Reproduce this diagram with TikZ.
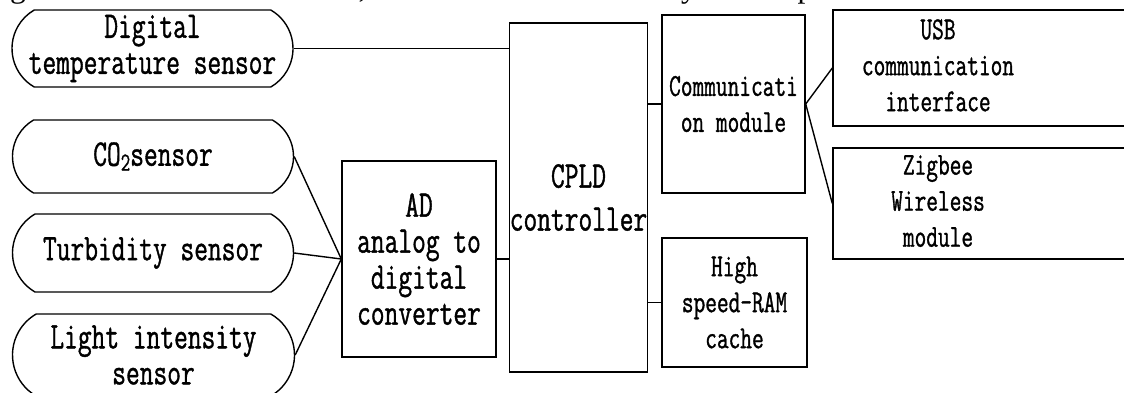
\documentclass[tikz,border=0pt]{standalone}
\usepackage{fontspec}
\setmainfont{Liberation Serif}
\newfontfamily\lab[FakeStretch=0.71,FakeBold=1]{Latin Modern Mono}
\usetikzlibrary{shapes.misc}
\tikzset{
  box/.style={draw, line width=1.4pt, inner sep=0pt, align=center,
    font=\lab\fontsize{32}{36}\selectfont},
  bigbox/.style={box, font=\lab\fontsize{37.6}{36}\selectfont},
  pill/.style={bigbox, rounded rectangle, rounded rectangle arc length=120},
  wire/.style={line width=1.4pt},
}
\newcommand\shiftblock[2]{\hspace*{#1}\begin{tabular}{@{}c@{}}#2\end{tabular}}
\begin{document}
\begin{tikzpicture}[x=1pt,y=-1pt]
\useasboundingbox (0,0) rectangle (1124,392);
\clip (0,0) rectangle (1124,392);
\fill[white] (0,0) rectangle (1124,392);
% cut-off text line at the top
\node[anchor=base west, inner sep=0pt, font=\fontsize{31.5}{31.5}\selectfont] (toptext) at (10,-3)
  {\makebox[1008pt][s]{gested module. Therefore, we can choose to analyze and process the data.}};
% sensors
\node[pill, minimum width=281, minimum height=77] (temp) at (152.5,48.5) {Digital\\temperature sensor};
\node[pill, minimum width=281, minimum height=73] (co2) at (153,156.5) {CO\lower0.3ex\hbox{\fontsize{26}{26}\selectfont 2}sensor};
\node[pill, minimum width=281, minimum height=78] (turb) at (153,253) {Turbidity sensor};
\node[pill, minimum width=282, minimum height=82] (light) at (153.5,355) {Light intensity\\sensor};
% converter and controller
\node[bigbox, minimum width=154, minimum height=196] (ad) at (419,259) {AD\\analog to\\digital\\converter};
\node[bigbox, minimum width=131, minimum height=349] (cpld) at (578.5,197.5) {CPLD\\[7pt]controller};
% right side
\node[box, minimum width=143, minimum height=178] (comm) at (733.5,104) {Communicati\\on module};
\node[box, minimum width=145, minimum height=129] (ram) at (734.5,302.5) {High\\speed-RAM\\cache};
\node[box, minimum width=302, minimum height=116] (usb) at (984,68) {\shiftblock{-92pt}{USB\\communication\\interface}};
\node[box, minimum width=302, minimum height=111] (zig) at (984,203.5) {\shiftblock{-92pt}{Zigbee\\Wireless\\module}};
% connectors
\draw[wire] (temp.east) -- (temp.east -| cpld.west);
\draw[wire] (co2.east) -- (ad.west);
\draw[wire] (turb.east) -- (ad.west);
\draw[wire] (light.east) -- (ad.west);
\draw[wire] (ad.east) -- (ad.east -| cpld.west);
\draw[wire] (comm.west) -- (comm.west -| cpld.east);
\draw[wire] (ram.west) -- (ram.west -| cpld.east);
\draw[wire] (comm.east) -- (usb.west);
\draw[wire] (comm.east) -- (zig.west);
\end{tikzpicture}
\end{document}
